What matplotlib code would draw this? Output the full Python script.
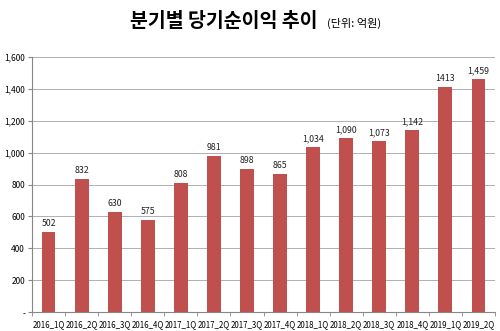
import matplotlib.pyplot as plt
import numpy as np

plt.rcParams['font.family'] = ['Noto Sans CJK KR', 'DejaVu Sans']

quarters = ['2016_1Q', '2016_2Q', '2016_3Q', '2016_4Q', '2017_1Q', '2017_2Q', '2017_3Q',
            '2017_4Q', '2018_1Q', '2018_2Q', '2018_3Q', '2018_4Q', '2019_1Q', '2019_2Q']
profit = [502, 832, 630, 575, 808, 981, 898, 865, 1034, 1090, 1073, 1142, 1413, 1459]
value_labels = ['502', '832', '630', '575', '808', '981', '898', '865', '1,034', '1,090',
                '1,073', '1,142', '1413', '1,459']
yticks = [0, 200, 400, 600, 800, 1000, 1200, 1400, 1600]

fig = plt.figure(figsize=(5, 3.31), dpi=100)
ax = fig.add_axes([0.064, 0.057, 0.926, 0.771])

x = np.arange(len(quarters))
ax.bar(x, profit, width=0.42, color='#C0504D', zorder=3)
for xi, v, lab in zip(x, profit, value_labels):
    ax.text(xi, v + 25, lab, ha='center', va='bottom', fontsize=6.3, color='#222222')

ax.set_xlim(-0.5, len(quarters) - 0.5)
ax.set_ylim(0, 1600)
ax.set_yticks(yticks)
ax.set_yticklabels(['-' if t == 0 else f'{t:,}' for t in yticks], fontsize=6)
ax.grid(axis='y', color='#b0b0b0', linewidth=0.7, zorder=0)

ax.set_xticks(x)
ax.set_xticklabels(quarters, fontsize=5.7)
ax.tick_params(axis='x', length=0, pad=6)
ax.set_xticks(np.arange(len(quarters) + 1) - 0.5, minor=True)
ax.tick_params(axis='x', which='minor', length=3, color='#868686')
ax.tick_params(axis='y', length=3, color='#868686', pad=2)

for s in ['top', 'right']:
    ax.spines[s].set_visible(False)
ax.spines['left'].set_color('#868686')
ax.spines['bottom'].set_color('#868686')

fig.text(0.448, 0.935, '분기별 당기순이익 추이', ha='center', va='center',
         fontsize=14, fontweight='bold')
fig.text(0.708, 0.928, '(단위: 억원)', ha='center', va='center', fontsize=8)

fig.savefig('out.png', dpi=100)
